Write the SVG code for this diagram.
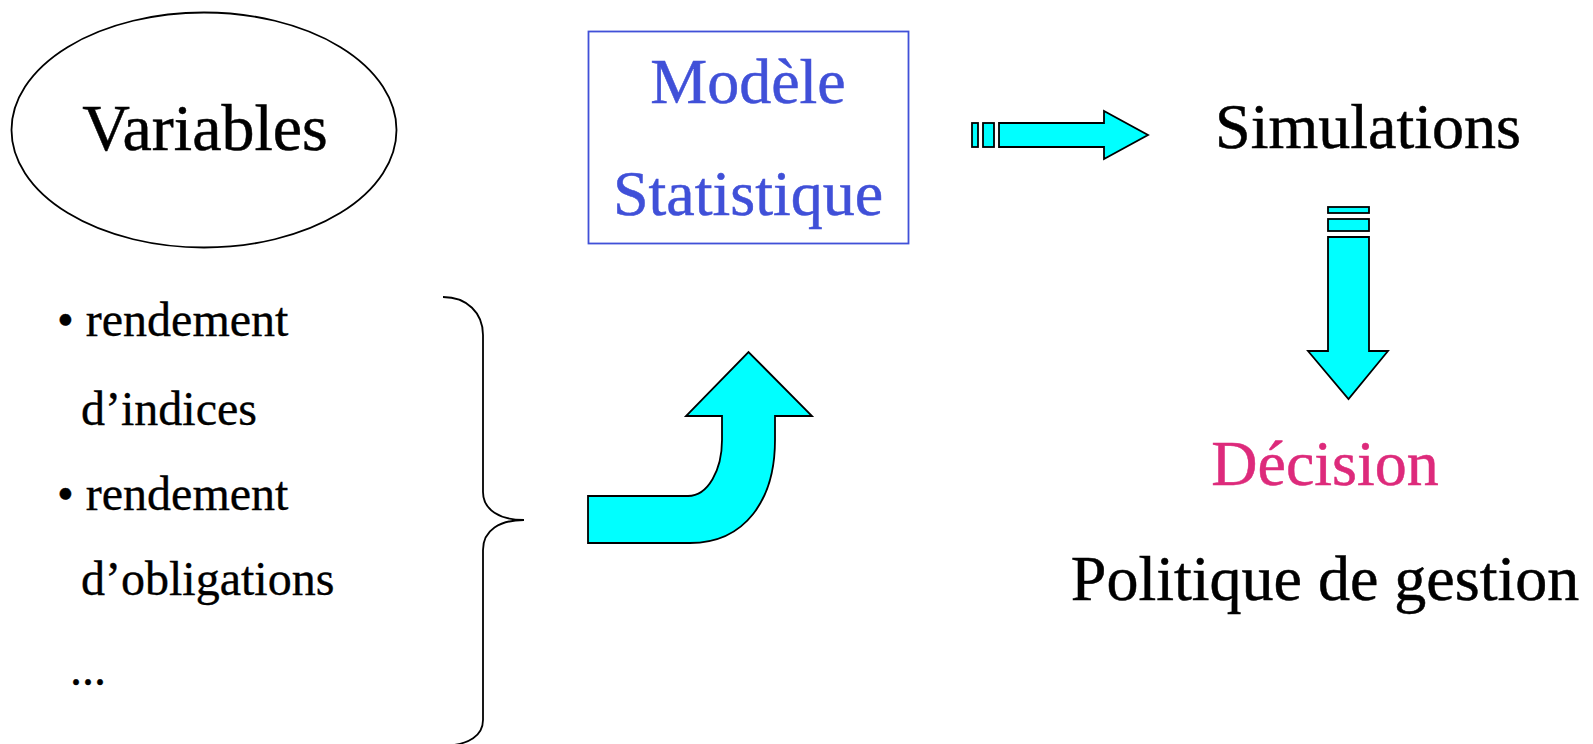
<svg xmlns="http://www.w3.org/2000/svg" width="1593" height="744" viewBox="0 0 1593 744">
<style>
text{font-family:'Liberation Serif','Times New Roman',Times,serif;fill:#000;stroke:#000;stroke-width:0.5}
.big{font-size:64px}
.li{font-size:48px;stroke-width:0.35}
.blue{fill:#4050D8;stroke:#4050D8}
.pink{fill:#DD2A7B;stroke:#DD2A7B}
.arr{fill:#00FFFF;stroke:#000;stroke-width:1.8;stroke-linejoin:miter}
</style>
<rect width="1593" height="744" fill="#fff"/>
<g id="variables">
<ellipse cx="204" cy="130" rx="192.5" ry="117.5" fill="none" stroke="#000" stroke-width="1.8"/>
<text class="big" x="205" y="150" text-anchor="middle" style="font-size:66px">Variables</text>
</g>
<g id="modele">
<rect x="588.5" y="31.5" width="320" height="212" fill="none" stroke="#4050D8" stroke-width="1.8"/>
<text class="big blue" x="748" y="103" text-anchor="middle">Modèle</text>
<text class="big blue" x="748" y="215" text-anchor="middle">Statistique</text>
</g>
<g id="simulations">
<text class="big" x="1368" y="148" text-anchor="middle">Simulations</text>
</g>
<g id="decision">
<text class="big pink" x="1325" y="485" text-anchor="middle">Décision</text>
<text class="big" x="1325" y="600" text-anchor="middle">Politique de gestion</text>
</g>
<g id="liste">
<text class="li" x="57" y="336">• rendement</text>
<text class="li" x="81" y="425">d’indices</text>
<text class="li" x="57" y="510">• rendement</text>
<text class="li" x="81" y="595">d’obligations</text>
<text class="li" x="70" y="685">...</text>
<path d="M443,297 C467,297 483,313 483,335 L483,492 C483,510 500,520 524,520 C500,520 483,530 483,550 L483,720 C483,735 470,745 443,746" fill="none" stroke="#000" stroke-width="1.8"/>
</g>
<g id="connectors">
<path class="arr" d="M588,496 L688,496 C708,496 722,470 722,440 L722,416 L686,416 L748.5,352 L812,416 L775,416 L775,440 C775,500 745,543 690,543 L588,543 Z"/>
<rect class="arr" x="972" y="123" width="6" height="24"/>
<rect class="arr" x="983" y="123" width="11" height="24"/>
<polygon class="arr" points="999,123 1104,123 1104,111 1148,135 1104,159 1104,147 999,147"/>
<rect class="arr" x="1328" y="207" width="41" height="6"/>
<rect class="arr" x="1328" y="219" width="41" height="12"/>
<polygon class="arr" points="1328,237 1369,237 1369,351 1388,351 1348.5,399 1308,351 1328,351"/>
</g>
</svg>
